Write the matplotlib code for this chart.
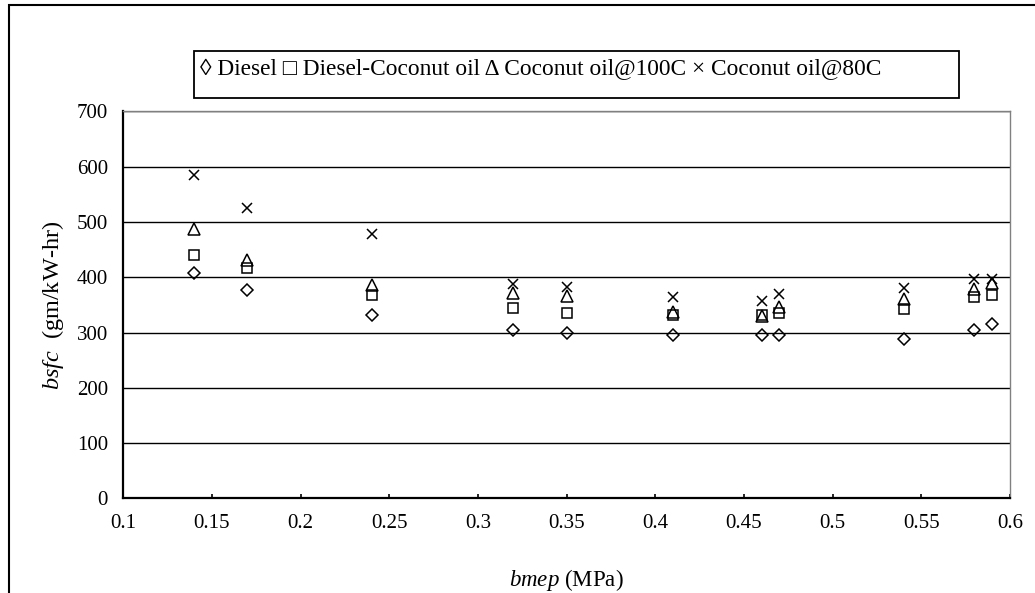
import numpy as np
import matplotlib.pyplot as plt
from matplotlib.patches import Rectangle

plt.rcParams['font.family'] = ['Liberation Serif', 'DejaVu Serif']
plt.rcParams['mathtext.fontset'] = 'custom'
plt.rcParams['mathtext.rm'] = 'Liberation Serif'
plt.rcParams['mathtext.it'] = 'Liberation Serif:italic'

# bmep (MPa)
bmep = [0.14, 0.17, 0.24, 0.32, 0.35, 0.41, 0.46, 0.47, 0.54, 0.58, 0.59]

# bsfc (gm/kW-hr)
diesel = [407, 377, 332, 305, 299, 295, 295, 295, 288, 305, 316]
diesel_coconut = [440, 416, 368, 344, 335, 332, 331, 336, 342, 365, 368]
coconut_100 = [487, 431, 387, 371, 366, 338, 330, 346, 360, 379, 390]
coconut_80 = [586, 525, 478, 388, 382, 364, 358, 369, 381, 397, 397]

xticks = [0.1, 0.15, 0.2, 0.25, 0.3, 0.35, 0.4, 0.45, 0.5, 0.55, 0.6]
yticks = [0, 100, 200, 300, 400, 500, 600, 700]

fig = plt.figure(figsize=(10.35, 5.93), dpi=100)
ax = fig.add_axes([0.1191, 0.1594, 0.8567, 0.6526])

ax.grid(axis='y', color='black', linewidth=1.0)
ax.set_axisbelow(True)

mk = dict(linestyle='none', color='black', markerfacecolor='none', markeredgewidth=1.1)
ax.plot(bmep, diesel, marker='D', markersize=6.5, **mk)
ax.plot(bmep, diesel_coconut, marker='s', markersize=7, **mk)
ax.plot(bmep, coconut_100, marker='^', markersize=8.5, **mk)
ax.plot(bmep, coconut_80, marker='x', markersize=7, **mk)

ax.set_xlim(0.1, 0.6)
ax.set_ylim(0, 700)
ax.set_xticks(xticks)
ax.set_xticklabels([f'{t:g}' for t in xticks])
ax.set_yticks(yticks)

ax.tick_params(axis='x', direction='in', length=3, width=1.2, labelsize=15, pad=11)
ax.tick_params(axis='y', length=0, labelsize=15, pad=11)

for s in ['left', 'bottom']:
    ax.spines[s].set_linewidth(1.6)
for s in ['top', 'right']:
    ax.spines[s].set_color('#808080')
    ax.spines[s].set_linewidth(1.0)

ax.set_xlabel(r'$bmep$ (MPa)', fontsize=16.5, labelpad=25)
ax.set_ylabel(r'$bsfc$  (gm/kW-hr)', fontsize=17.5, labelpad=8)

# legend box drawn as text
fig.patches.append(Rectangle((0.1874, 0.8347), 0.7391, 0.0793, transform=fig.transFigure,
                             fill=False, edgecolor='black', linewidth=1.3))
fig.text(0.1932, 0.8836, '\u25ca Diesel \u25a1 Diesel-Coconut oil \u0394 Coconut oil@100C \u00d7 Coconut oil@80C',
         fontsize=16.8, va='center', ha='left')

# outer chart frame
fig.patches.append(Rectangle((0.0087, -0.05), 1.2, 1.0416, transform=fig.transFigure,
                             fill=False, edgecolor='black', linewidth=1.5))

fig.savefig('out.png', dpi=100)
